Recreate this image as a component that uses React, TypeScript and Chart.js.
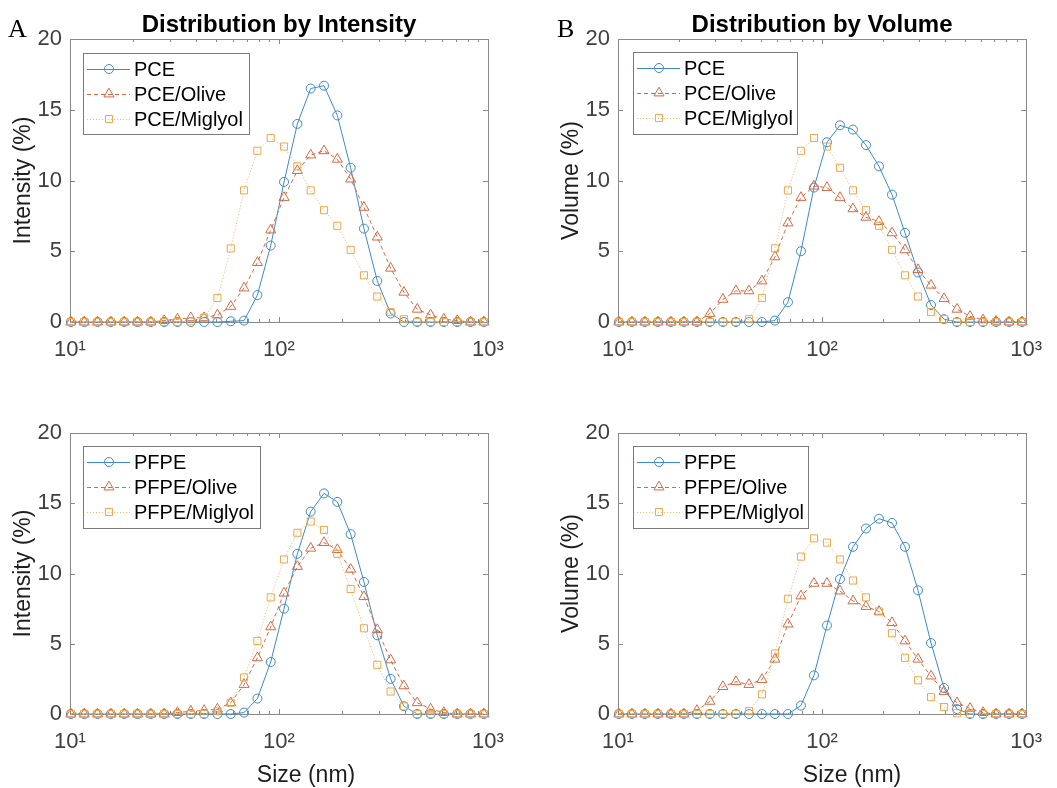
import React, { useEffect, useRef } from "react";
import { Chart, registerables } from "chart.js";

Chart.register(...registerables);

// ---------- DATA ----------
const sizes = [10.10, 11.70, 13.54, 15.69, 18.17, 21.04, 24.36, 28.21, 32.67, 37.84, 43.82, 50.75, 58.77, 68.06, 78.82, 91.28, 105.7, 122.4, 141.8, 164.2, 190.1, 220.2, 255.0, 295.3, 342.0, 396.1, 458.7, 531.2, 615.1, 712.4, 825.0, 955.4];

const xTickValues = [10, 20, 30, 40, 50, 60, 70, 80, 90, 100, 200, 300, 400, 500, 600, 700, 800, 900, 1000];
const xMajorTicks = [10, 100, 1000];
const xTickLabels = ["10\u00B9", "10\u00B2", "10\u00B3"];
const yTickValues = [0, 5, 10, 15, 20];

const pceLabels = ["PCE", "PCE/Olive", "PCE/Miglyol"];
const pfpeLabels = ["PFPE", "PFPE/Olive", "PFPE/Miglyol"];

// A: intensity, PCE
const pceIntensity = [0, 0, 0, 0, 0, 0, 0, 0, 0, 0, 0, 0, 0.05, 0.1, 1.9, 5.4, 9.9, 14.0, 16.5, 16.7, 14.6, 10.9, 6.6, 2.9, 0.6, 0, 0, 0, 0, 0, 0, 0];
const pceOliveIntensity = [0, 0, 0, 0, 0, 0, 0, 0.1, 0.2, 0.3, 0.3, 0.5, 1.1, 2.4, 4.2, 6.5, 8.8, 10.7, 11.8, 12.1, 11.5, 10.1, 8.1, 6.0, 3.8, 2.1, 0.9, 0.5, 0.2, 0.1, 0, 0];
const pceMiglyolIntensity = [0, 0, 0, 0, 0, 0, 0, 0, 0, 0.05, 0.3, 1.7, 5.2, 9.3, 12.1, 13.0, 12.4, 11.0, 9.3, 7.9, 6.8, 5.1, 3.3, 1.8, 0.7, 0.2, 0, 0, 0, 0, 0, 0];

// B: volume, PCE
const pceVolume = [0, 0, 0, 0, 0, 0, 0, 0, 0, 0, 0, 0, 0.1, 1.4, 5.0, 9.5, 12.7, 13.9, 13.6, 12.5, 11.0, 9.0, 6.3, 3.5, 1.2, 0.2, 0, 0, 0, 0, 0, 0];
const pceOliveVolume = [0, 0, 0, 0, 0, 0, 0, 0.6, 1.6, 2.2, 2.2, 2.9, 4.6, 7.0, 8.8, 9.6, 9.5, 8.8, 8.0, 7.4, 7.1, 6.3, 5.1, 3.7, 2.6, 1.65, 0.9, 0.4, 0.15, 0.05, 0, 0];
const pceMiglyolVolume = [0, 0, 0, 0, 0, 0, 0, 0, 0, 0, 0.2, 1.7, 5.2, 9.3, 12.1, 13.0, 12.4, 10.9, 9.3, 7.9, 6.8, 5.1, 3.3, 1.8, 0.7, 0.2, 0, 0, 0, 0, 0, 0];

// C: intensity, PFPE
const pfpeIntensity = [0, 0, 0, 0, 0, 0, 0, 0, 0, 0, 0, 0, 0, 0.1, 1.1, 3.7, 7.5, 11.4, 14.4, 15.7, 15.1, 12.8, 9.4, 5.6, 2.5, 0.55, 0, 0, 0, 0, 0, 0];
const pfpeOliveIntensity = [0, 0, 0, 0, 0, 0, 0, 0, 0.1, 0.2, 0.25, 0.35, 0.8, 2.1, 4.0, 6.2, 8.6, 10.5, 11.8, 12.2, 11.7, 10.3, 8.35, 6.0, 3.85, 2.0, 0.8, 0.35, 0.1, 0, 0, 0];
const pfpeMiglyolIntensity = [0, 0, 0, 0, 0, 0, 0, 0, 0, 0, 0, 0.2, 0.8, 2.6, 5.2, 8.3, 11.0, 12.9, 13.7, 13.1, 11.4, 8.9, 6.1, 3.5, 1.6, 0.55, 0, 0, 0, 0, 0, 0];

// D: volume, PFPE
const pfpeVolume = [0, 0, 0, 0, 0, 0, 0, 0, 0, 0, 0, 0, 0, 0, 0.6, 2.75, 6.3, 9.6, 11.9, 13.2, 13.9, 13.6, 11.9, 8.8, 5.05, 1.85, 0.35, 0, 0, 0, 0, 0];
const pfpeOliveVolume = [0, 0, 0, 0, 0, 0, 0.25, 0.9, 1.95, 2.3, 2.1, 2.45, 3.9, 6.4, 8.4, 9.3, 9.3, 8.75, 8.05, 7.65, 7.3, 6.5, 5.2, 3.9, 2.7, 1.6, 0.8, 0.4, 0.1, 0, 0, 0];
const pfpeMiglyolVolume = [0, 0, 0, 0, 0, 0, 0, 0, 0, 0, 0.2, 1.4, 4.3, 8.2, 11.2, 12.5, 12.2, 11.0, 9.5, 8.3, 7.3, 5.75, 4.0, 2.4, 1.2, 0.5, 0.05, 0, 0, 0, 0, 0];

// ---------- STYLE / LAYOUT ----------
const FONT = '"Liberation Sans", Arial, Helvetica, sans-serif';
const SERIF = '"Liberation Serif", "Times New Roman", serif';
const TICK_COLOR = "#404040";
const LABEL_COLOR = "#1e1e1e";
const AXIS_COLOR = "#8a8a8a";
const Y_AXIS_W = 60;
const X_AXIS_H = 50;

type SeriesStyle = { line: string; marker: string; dash: number[]; point: string; radius: number };
const seriesStyles: SeriesStyle[] = [
  { line: "#3f8ac4", marker: "#3f8ac4", dash: [], point: "circle", radius: 4.5 },
  { line: "#d46a45", marker: "#d46a45", dash: [4, 3], point: "triangle", radius: 5.8 },
  { line: "#efc07c", marker: "#e9a94e", dash: [1.2, 1.8], point: "rect", radius: 5 },
];

type Panel = {
  key: string;
  left: number; top: number; width: number; height: number;
  area: { l: number; t: number; r: number; b: number };
  title?: string;
  letter?: string; letterX?: number;
  xLabel?: string; xLabelX?: number; xLabelY?: number;
  yLabel: string;
  labels: string[];
  series: number[][];
  legend: { x: number; y: number; w: number; h: number };
};

const panels: Panel[] = [
  {
    key: "A", left: 0, top: 0, width: 528, height: 394,
    area: { l: 70, t: 39, r: 488, b: 322 },
    title: "Distribution by Intensity", letter: "A", letterX: 8,
    yLabel: "Intensity (%)", labels: pceLabels,
    series: [pceIntensity, pceOliveIntensity, pceMiglyolIntensity],
    legend: { x: 83, y: 53, w: 166, h: 81 },
  },
  {
    key: "B", left: 528, top: 0, width: 529, height: 394,
    area: { l: 90, t: 39, r: 506, b: 322 },
    title: "Distribution by Volume", letter: "B", letterX: 29,
    yLabel: "Volume (%)", labels: pceLabels,
    series: [pceVolume, pceOliveVolume, pceMiglyolVolume],
    legend: { x: 105, y: 52, w: 164, h: 82 },
  },
  {
    key: "C", left: 0, top: 394, width: 528, height: 394,
    area: { l: 70, t: 39, r: 488, b: 320 },
    xLabel: "Size (nm)", xLabelX: 306, xLabelY: 388,
    yLabel: "Intensity (%)", labels: pfpeLabels,
    series: [pfpeIntensity, pfpeOliveIntensity, pfpeMiglyolIntensity],
    legend: { x: 83, y: 52, w: 177, h: 82 },
  },
  {
    key: "D", left: 528, top: 394, width: 529, height: 394,
    area: { l: 90, t: 39, r: 506, b: 320 },
    xLabel: "Size (nm)", xLabelX: 324, xLabelY: 388,
    yLabel: "Volume (%)", labels: pfpeLabels,
    series: [pfpeVolume, pfpeOliveVolume, pfpeMiglyolVolume],
    legend: { x: 105, y: 52, w: 175, h: 82 },
  },
];

function drawMarker(ctx: CanvasRenderingContext2D, kind: string, x: number, y: number, r: number) {
  ctx.beginPath();
  if (kind === "circle") {
    ctx.arc(x, y, r, 0, Math.PI * 2);
  } else if (kind === "triangle") {
    ctx.moveTo(x, y - r);
    ctx.lineTo(x + Math.sin((2 * Math.PI) / 3) * r, y - Math.cos((2 * Math.PI) / 3) * r);
    ctx.lineTo(x + Math.sin((4 * Math.PI) / 3) * r, y - Math.cos((4 * Math.PI) / 3) * r);
    ctx.closePath();
  } else {
    const s = Math.SQRT1_2 * r;
    ctx.rect(x - s, y - s, 2 * s, 2 * s);
  }
  ctx.stroke();
}

function decorPlugin(p: Panel) {
  return {
    id: "decor" + p.key,
    beforeDatasetsDraw(chart: any) {
      const ctx: CanvasRenderingContext2D = chart.ctx;
      const { left, right, top, bottom } = chart.chartArea;
      const xs = chart.scales.x;
      const ys = chart.scales.y;
      ctx.save();
      ctx.strokeStyle = AXIS_COLOR;
      ctx.lineWidth = 1;
      ctx.setLineDash([]);
      ctx.strokeRect(Math.round(left) + 0.5, Math.round(top) + 0.5, Math.round(right - left), Math.round(bottom - top));
      ctx.beginPath();
      for (const v of xTickValues) {
        const px = Math.round(xs.getPixelForValue(v)) + 0.5;
        const len = xMajorTicks.includes(v) ? 5 : 3;
        ctx.moveTo(px, bottom);
        ctx.lineTo(px, bottom - len);
        ctx.moveTo(px, top);
        ctx.lineTo(px, top + len);
      }
      for (const v of yTickValues) {
        const py = Math.round(ys.getPixelForValue(v)) + 0.5;
        ctx.moveTo(left, py);
        ctx.lineTo(left + 5, py);
        ctx.moveTo(right, py);
        ctx.lineTo(right - 5, py);
      }
      ctx.stroke();
      ctx.restore();
    },
    afterDatasetsDraw(chart: any) {
      const ctx: CanvasRenderingContext2D = chart.ctx;
      const { left, right } = chart.chartArea;
      ctx.save();
      // title
      if (p.title) {
        ctx.font = `bold 24px ${FONT}`;
        ctx.fillStyle = "#000";
        ctx.textAlign = "center";
        ctx.textBaseline = "alphabetic";
        ctx.fillText(p.title, (left + right) / 2, 32);
      }
      if (p.letter) {
        ctx.font = `26px ${SERIF}`;
        ctx.fillStyle = "#000";
        ctx.textAlign = "left";
        ctx.textBaseline = "alphabetic";
        ctx.fillText(p.letter, p.letterX || 0, 37);
      }
      if (p.xLabel) {
        ctx.font = `23px ${FONT}`;
        ctx.fillStyle = LABEL_COLOR;
        ctx.textAlign = "center";
        ctx.textBaseline = "alphabetic";
        ctx.fillText(p.xLabel, p.xLabelX || 0, p.xLabelY || 0);
      }
      // legend
      const lg = p.legend;
      ctx.fillStyle = "#fff";
      ctx.fillRect(lg.x, lg.y, lg.w, lg.h);
      ctx.strokeStyle = "#7a7a7a";
      ctx.lineWidth = 1;
      ctx.strokeRect(lg.x + 0.5, lg.y + 0.5, lg.w, lg.h);
      p.labels.forEach((lab, i) => {
        const st = seriesStyles[i];
        const y = lg.y + 16 + i * 25;
        ctx.strokeStyle = st.line;
        ctx.lineWidth = 1;
        ctx.setLineDash(st.dash);
        ctx.beginPath();
        ctx.moveTo(lg.x + 4, y + 0.5);
        ctx.lineTo(lg.x + 47, y + 0.5);
        ctx.stroke();
        ctx.setLineDash([]);
        ctx.strokeStyle = st.marker;
        ctx.fillStyle = "#fff";
        drawMarker(ctx, st.point, lg.x + 26, y, st.radius);
        ctx.fillStyle = "#000";
        ctx.font = `20px ${FONT}`;
        ctx.textAlign = "left";
        ctx.textBaseline = "middle";
        ctx.fillText(lab, lg.x + 51, y + 1);
      });
      ctx.restore();
    },
  };
}

function PanelChart({ p }: { p: Panel }) {
  const ref = useRef<HTMLCanvasElement | null>(null);
  useEffect(() => {
    if (!ref.current) return;
    const chart = new Chart(ref.current, {
      type: "line",
      data: {
        datasets: p.series.map((vals, i) => ({
          label: p.labels[i],
          data: sizes.map((s, j) => ({ x: s, y: vals[j] })),
          borderColor: seriesStyles[i].line,
          borderWidth: 1,
          borderDash: seriesStyles[i].dash,
          pointStyle: seriesStyles[i].point as any,
          pointRadius: seriesStyles[i].radius,
          pointBorderColor: seriesStyles[i].marker,
          pointBackgroundColor: "rgba(0,0,0,0)",
          pointBorderWidth: 1,
          tension: 0,
          fill: false,
          clip: false as any,
          order: 3 - i,
        })),
      },
      options: {
        responsive: false,
        animation: false,
        devicePixelRatio: 1,
        events: [],
        layout: {
          padding: {
            left: p.area.l - Y_AXIS_W,
            top: p.area.t,
            right: p.width - p.area.r,
            bottom: p.height - p.area.b - X_AXIS_H,
          },
        },
        plugins: {
          legend: { display: false },
          tooltip: { enabled: false },
          title: { display: false },
        },
        scales: {
          x: {
            type: "logarithmic",
            min: 10,
            max: 1000,
            grid: { display: false, drawTicks: false },
            border: { display: false },
            afterBuildTicks: (s: any) => {
              s.ticks = xTickValues.map((v) => ({ value: v, major: xMajorTicks.includes(v) }));
            },
            afterFit: (s: any) => {
              s.height = X_AXIS_H;
            },
            ticks: {
              autoSkip: false,
              maxRotation: 0,
              minRotation: 0,
              padding: 15,
              color: TICK_COLOR,
              font: { family: FONT, size: 22 },
              callback: (v: any) => {
                const k = xMajorTicks.indexOf(Number(v));
                return k >= 0 ? xTickLabels[k] : "";
              },
            },
          },
          y: {
            type: "linear",
            min: 0,
            max: 20,
            grid: { display: false, drawTicks: false },
            border: { display: false },
            afterBuildTicks: (s: any) => {
              s.ticks = yTickValues.map((v) => ({ value: v }));
            },
            afterFit: (s: any) => {
              s.width = Y_AXIS_W;
            },
            ticks: {
              padding: 8,
              color: TICK_COLOR,
              font: { family: FONT, size: 22 },
            },
            title: {
              display: true,
              text: p.yLabel,
              color: LABEL_COLOR,
              font: { family: FONT, size: 23 },
              padding: { top: 0, bottom: 0 },
            },
          },
        },
      },
      plugins: [decorPlugin(p)],
    } as any);
    return () => chart.destroy();
  }, []);
  return (
    <canvas
      ref={ref}
      width={p.width}
      height={p.height}
      style={{ position: "absolute", left: p.left, top: p.top, width: p.width, height: p.height }}
    />
  );
}

export default function App() {
  return (
    <div style={{ position: "absolute", left: 0, top: 0, width: 1057, height: 788, background: "#fff" }}>
      {panels.map((p) => (
        <PanelChart key={p.key} p={p} />
      ))}
    </div>
  );
}
